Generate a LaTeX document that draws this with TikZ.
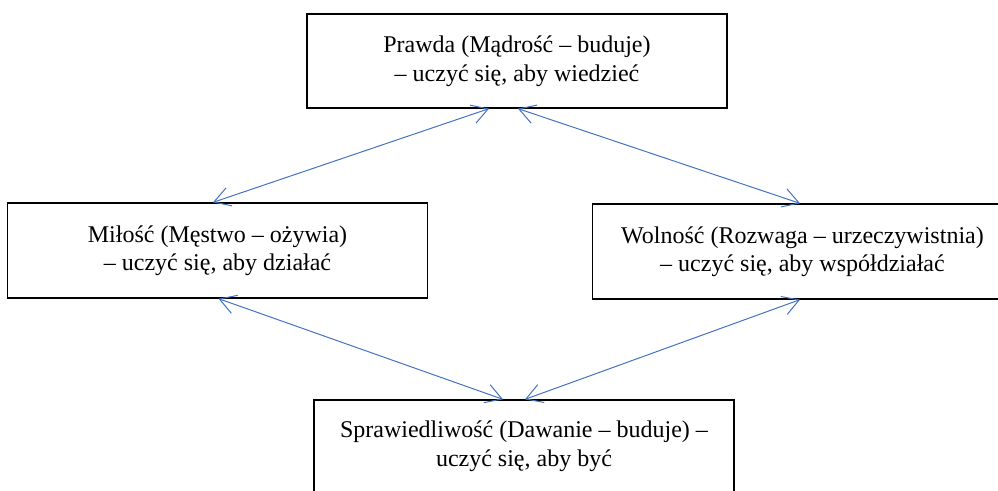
\documentclass[tikz,border=0pt]{standalone}
\usepackage{fontspec}
\setmainfont{Liberation Serif}
\usetikzlibrary{arrows.meta}

\begin{document}
\begin{tikzpicture}[x=1pt, y=-1pt]
    \definecolor{borderColour}{HTML}{000000}
    \definecolor{linkColour}{HTML}{4472C4}

    \tikzset{
        valuebox/.style={draw=borderColour, line width=1.3pt, rectangle, align=center,
            inner sep=0pt, minimum width=420, minimum height=94,
            font=\fontsize{24}{28.5}\selectfont},
        link/.style={draw=linkColour, line width=1pt,
            {Straight Barb[length=16pt, width=19pt]}-{Straight Barb[length=16pt, width=19pt]}}
    }

    \useasboundingbox (0,0) rectangle (998,490);

    % Draw boxes
    \node[valuebox] (prawda) at (517,61)
        {Prawda (Mądrość – buduje)\\– uczyć się, aby wiedzieć};
    \node[valuebox, minimum height=95] (milosc) at (217.5,250.5)
        {Miłość (Męstwo – ożywia)\\– uczyć się, aby działać};
    \node[valuebox, minimum height=95] (wolnosc) at (802.5,251.5)
        {Wolność (Rozwaga – urzeczywistnia)\\– uczyć się, aby współdziałać};
    \node[valuebox, minimum height=92] (sprawiedliwosc) at (524,446)
        {Sprawiedliwość (Dawanie – buduje) –\\uczyć się, aby być};

    % Draw links
    \draw[link] ([xshift=-28]prawda.south) -- ([xshift=-4.5]milosc.north);
    \draw[link] ([xshift=1]prawda.south) -- ([xshift=-2.5]wolnosc.north);
    \draw[link] ([xshift=1]milosc.south) -- ([xshift=-21]sprawiedliwosc.north);
    \draw[link] ([xshift=-2.5]wolnosc.south) -- ([xshift=1]sprawiedliwosc.north);

\end{tikzpicture}
\end{document}
